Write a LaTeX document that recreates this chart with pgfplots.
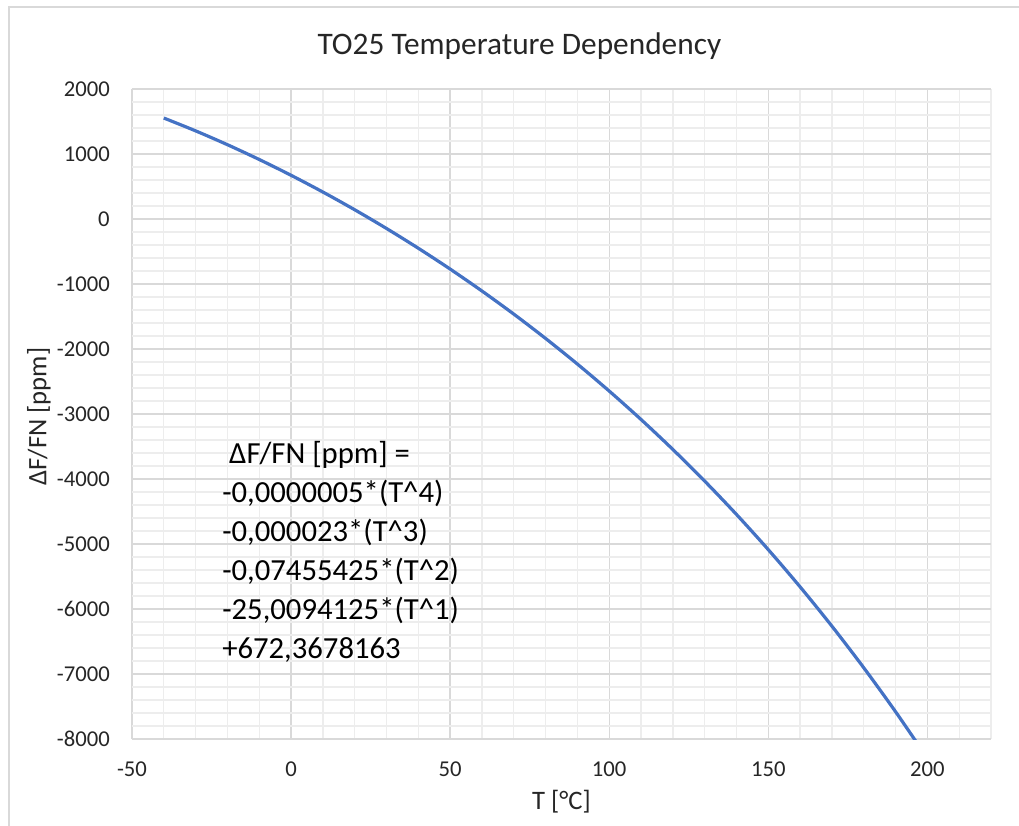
\documentclass[border=0pt]{standalone}
\usepackage{fontspec}
\setmainfont{Carlito}
\usepackage{pgfplots}
\pgfplotsset{compat=1.18}
\definecolor{xlblue}{HTML}{4472C4}
\definecolor{majgrid}{HTML}{D9D9D9}
\definecolor{mingrid}{HTML}{EDEDED}
\definecolor{txt}{HTML}{262626}
\begin{document}
\begin{tikzpicture}
% page frame: 1 px = 0.75pt, origin at lower left of plot area
\useasboundingbox (-99pt,-64.5pt) rectangle (665.25pt,554.25pt);
\draw[majgrid, line width=1pt] (-92.25pt,-70pt) -- (-92.25pt,549pt) -- (670pt,549pt);
\begin{axis}[
scale only axis,
width=644.25pt, height=487.5pt,
xmin=-50, xmax=220,
ymin=-8000, ymax=2000,
xtick={-50,0,...,200},
ytick={-8000,-7000,...,2000},
minor xtick={-40,-30,...,220},
minor ytick={-7800,-7600,...,1800},
grid=both,
major grid style={majgrid, line width=1pt},
minor grid style={mingrid, line width=1pt},
major tick length=0pt, minor tick length=0pt,
axis line style={draw=none},
/pgf/number format/assume math mode=true,
/pgf/number format/1000 sep={},
ticklabel style={font=\fontsize{17}{20}\selectfont, text=txt},
yticklabel style={inner sep=0pt, anchor=east, xshift=-16.5pt},
xticklabel style={inner sep=0pt, anchor=north, yshift=-17pt},
title={TO25 Temperature Dependency},
title style={at={(axis description cs:0.451,1.0415)}, anchor=base, inner sep=0pt,
  font=\fontsize{23.5}{28}\selectfont, text=txt},
xlabel={T [°C]},
xlabel style={at={(axis description cs:0.5,-0.0969)}, anchor=center, inner sep=0pt,
  font=\fontsize{20}{24}\selectfont, text=txt},
ylabel={ΔF/FN [ppm]},
ylabel style={at={(axis description cs:-0.1083,0.496)}, anchor=center, inner sep=0pt,
  font=\fontsize{20}{24}\selectfont, text=txt},
]
\draw[majgrid, line width=1.2pt] (rel axis cs:0,0) -- (rel axis cs:1,0);
\addplot[xlblue, line width=2.4pt, smooth] coordinates {
(-40,1553.65) (-30,1355.77) (-20,1142.84) (-10,915.02) (0,672.37)
(10,414.79) (20,142.09) (30,-146.04) (40,-450.05) (50,-770.49)
(60,-1108.04) (70,-1463.50) (80,-1837.79) (90,-2231.94) (100,-2647.12)
(110,-3084.59) (120,-3545.77) (130,-4032.16) (140,-4545.41) (150,-5087.27)
(160,-5659.62) (170,-6264.45) (180,-6903.90) (190,-7580.19) (200,-8295.68)
};
\node[anchor=north west, align=left, inner sep=0pt, text=black,
  font=\fontsize{23}{29.25}\selectfont] at (axis cs:-21.7,-3415) {%
\ ΔF/FN [ppm] =\\
-0,0000005*(T\textasciicircum 4)\\
-0,000023*(T\textasciicircum 3)\\
-0,07455425*(T\textasciicircum 2)\\
-25,0094125*(T\textasciicircum 1)\\
+672,3678163};
\end{axis}
\end{tikzpicture}
\end{document}
